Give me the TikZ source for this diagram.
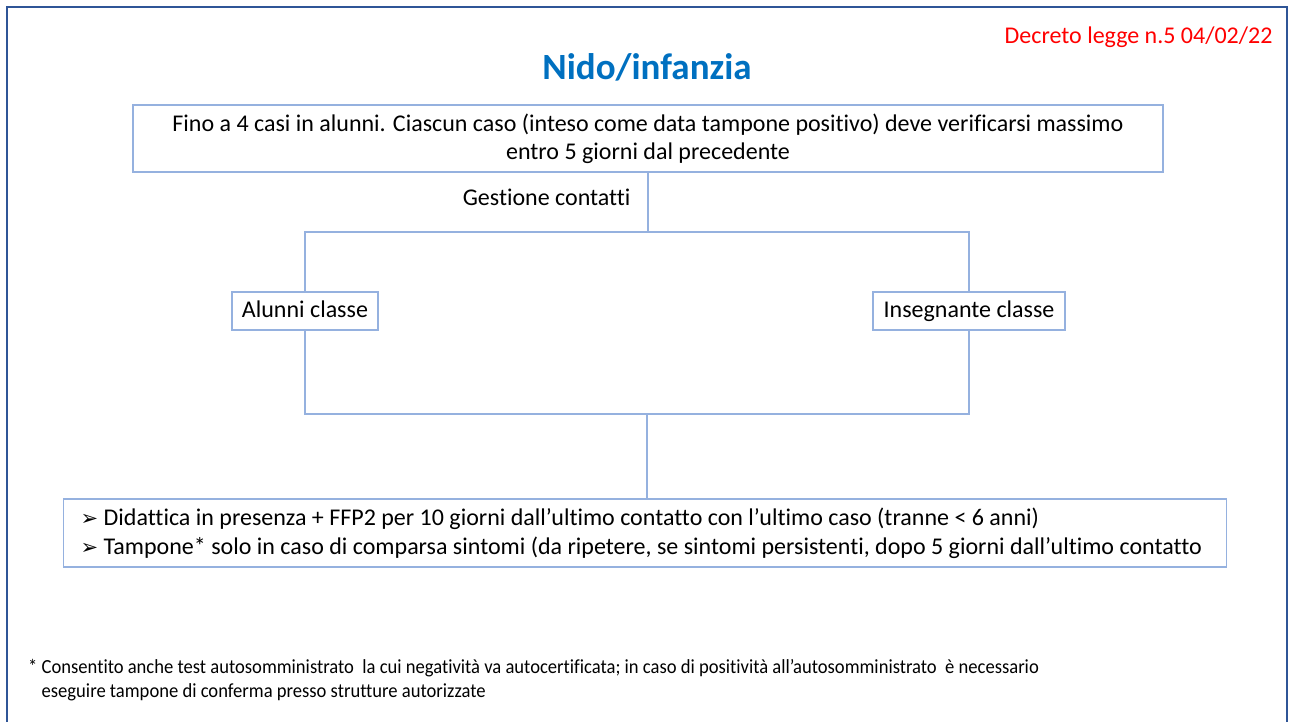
\documentclass[tikz,border=0pt]{standalone}
\usepackage{fontspec}
\setmainfont{Carlito}[Ligatures=NoCommon]
\newfontfamily\narrowfont{Carlito}[FakeStretch=0.93, Ligatures=NoCommon]
\newfontfamily\symfont{DejaVu Sans}
\usetikzlibrary{positioning}
\definecolor{linkblue}{HTML}{95B1DF}
\definecolor{frameblue}{HTML}{2F5597}
\definecolor{titleblue}{HTML}{0070C0}

\begin{document}
\begin{tikzpicture}[x=1pt, y=-1pt,
  box/.style={draw=linkblue, line width=1.3pt, inner sep=0pt, font=\fontsize{24}{28}\selectfont},
  link/.style={draw=linkblue, line width=1.3pt}]

\useasboundingbox (0,0) rectangle (1289,722);
\clip (0,0) rectangle (1289,722);
\draw[frameblue, line width=2pt] (7,7) rectangle (1287,740);

% Titles
\node (titolo) [font=\fontsize{37}{44}\selectfont\bfseries, text=titleblue] at (647,67) {Nido/infanzia};
\node (decreto) [anchor=east, font=\fontsize{24}{28}\selectfont, text=red] at (1276,37) {Decreto legge n.5 04/02/22};

% Nodes
\node (casi) [box, minimum width=1030pt, minimum height=67pt, align=center] at (648,138.5)
  {Fino a 4 casi in alunni. Ciascun caso (inteso come data tampone positivo) deve verificarsi massimo\\entro 5 giorni dal precedente};
\node (gestione) [anchor=east, font=\fontsize{24}{28}\selectfont] at (634,197) {Gestione contatti};
\node (alunni) [box, minimum width=146pt, minimum height=38pt, text height=17pt, text depth=5pt] at (305,311) {Alunni classe};
\node (insegnante) [box, minimum width=192pt, minimum height=38pt, text height=17pt, text depth=5pt] at (969,311) {Insegnante classe};
\node (misure) [box, anchor=west, text width=1129pt, inner xsep=17pt, minimum height=68pt, align=flush left,
  font=\fontsize{24}{29}\selectfont] at (63,533)
  {\hyphenpenalty=10000
   \makebox[23pt][l]{\symfont\fontsize{21}{24}\selectfont ➢}Didattica in presenza + FFP2 per 10 giorni dall’ultimo contatto con l’ultimo caso (tranne < 6 anni)\\
   \makebox[23pt][l]{\symfont\fontsize{21}{24}\selectfont ➢}Tampone* solo in caso di comparsa sintomi (da ripetere, se sintomi persistenti, dopo 5 giorni dall’ultimo contatto};
\node (nota) [anchor=north west, align=left, inner sep=0pt, font=\narrowfont\fontsize{20}{24}\selectfont] at (28,659)
  {* Consentito anche test autosomministrato\ \ la cui negatività va autocertificata; in caso di positività all’autosomministrato\ \ è necessario\\
   \phantom{*~}eseguire tampone di conferma presso strutture autorizzate};

% Connectors
\coordinate (split) at (648,232);
\coordinate (merge) at (647,414);
\draw[link] (casi.south) -- (split);
\draw[link] (alunni.north) |- (split) -| (insegnante.north);
\draw[link] (alunni.south) |- (merge) -| (insegnante.south);
\draw[link] (merge) -- (merge |- misure.north);

\end{tikzpicture}
\end{document}
